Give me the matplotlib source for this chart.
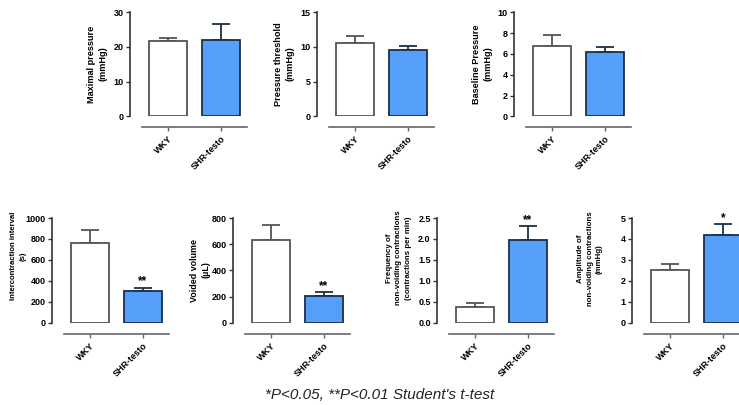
import matplotlib.pyplot as plt
from matplotlib.ticker import MultipleLocator, FormatStrFormatter

plt.rcParams['font.family'] = ['Liberation Sans', 'DejaVu Sans']
plt.rcParams['font.weight'] = 'bold'

groups = ["WKY", "SHR-testo"]

ylabels = [
    "Maximal pressure\n(mmHg)",
    "Pressure threshold\n(mmHg)",
    "Baseline Pressure\n(mmHg)",
    "Intercontraction interval\n(s)",
    "Voided volume\n(\u00b5L)",
    "Frequency of\nnon-voiding contractions\n(contractions per min)",
    "Amplitude of\nnon-voiding contractions\n(mmHg)",
]
means = [
    [21.8, 21.9],
    [10.6, 9.6],
    [6.75, 6.15],
    [765, 305],
    [635, 205],
    [0.38, 1.97],
    [2.5, 4.2],
]
sems = [
    [0.8, 4.6],
    [1.0, 0.6],
    [1.05, 0.55],
    [120, 30],
    [110, 30],
    [0.10, 0.33],
    [0.30, 0.52],
]
ymax = [30, 15, 10, 1000, 800, 2.5, 5]
ystep = [10, 5, 2, 200, 200, 0.5, 1]
stars = ["", "", "", "**", "**", "**", "*"]

W, H = 739, 405
# pixel layout: y-axis x, plot top, plot bottom, label centre x, label centre y, label size, line spacing
layout = [
    (130, 12.3, 116.3, 97, 64, 6.6, 1.3),
    (317, 12.3, 116.3, 284, 64, 6.6, 1.3),
    (514, 12.3, 116.3, 482, 64, 6.6, 1.3),
    (52, 218, 322.7, 18, 256, 5.6, 1.55),
    (233, 218, 322.7, 200, 270, 6.4, 1.3),
    (437, 218, 322.7, 399, 258, 5.7, 1.45),
    (632, 218, 322.7, 590, 259, 5.7, 1.45),
]
axw = 117.0

fill = ["white", "#559ffb"]
edge = ["#555555", "#1d2f48"]

fig = plt.figure(figsize=(W / 100, H / 100), dpi=100)

for i in range(7):
    left, top, bot, lx, ly, lsize, lsp = layout[i]
    ax = fig.add_axes([left / W, 1 - bot / H, axw / W, (bot - top) / H])
    ax.bar([0, 1], means[i], width=0.72, color=fill, edgecolor=edge,
           linewidth=1.3, zorder=2)
    for j in range(2):
        ax.errorbar(j, means[i][j], yerr=[[0], [sems[i][j]]], fmt='none',
                    ecolor=edge[j], elinewidth=1.3, capsize=6.8,
                    capthick=1.3, zorder=1)
    if stars[i]:
        ax.text(1, means[i][1] + sems[i][1], stars[i], ha='center',
                va='bottom', fontsize=8.5, fontweight='bold')

    ax.set_xlim(-0.73, 1.5)
    ax.set_ylim(0, ymax[i])
    ax.yaxis.set_major_locator(MultipleLocator(ystep[i]))
    if ystep[i] < 1:
        ax.yaxis.set_major_formatter(FormatStrFormatter('%.1f'))
    ax.set_xticks([0, 1])
    ax.set_xticklabels(groups)

    for s in ['top', 'right']:
        ax.spines[s].set_visible(False)
    ax.spines['left'].set_color('#333333')
    ax.spines['left'].set_linewidth(1.2)
    ax.spines['left'].set_bounds(0, ymax[i])
    ax.spines['bottom'].set_color('#666666')
    ax.spines['bottom'].set_linewidth(1.2)
    ax.spines['bottom'].set_position(('outward', 8))
    ax.spines['bottom'].set_bounds(-0.5, 1.5)
    ax.tick_params(axis='y', length=3, width=1, pad=1.5, labelsize=6.5,
                   color='#333333')
    ax.tick_params(axis='x', length=3, width=1, pad=2, labelsize=6.5,
                   color='#666666')
    plt.setp(ax.get_xticklabels(), rotation=45, ha='right',
             rotation_mode='anchor')
    ax.patch.set_visible(False)

    ax.text((lx - left) / axw, (bot - ly) / (bot - top), ylabels[i],
            transform=ax.transAxes, rotation=90, ha='center', va='center',
            fontsize=lsize, fontweight='bold', linespacing=lsp)

fig.text(380 / W, 1 - 395 / H, "*P<0.05, **P<0.01 Student's t-test",
         ha='center', va='center', fontsize=11, fontstyle='italic',
         fontweight='normal', color='#222222')

fig.savefig("out.png", dpi=100)
